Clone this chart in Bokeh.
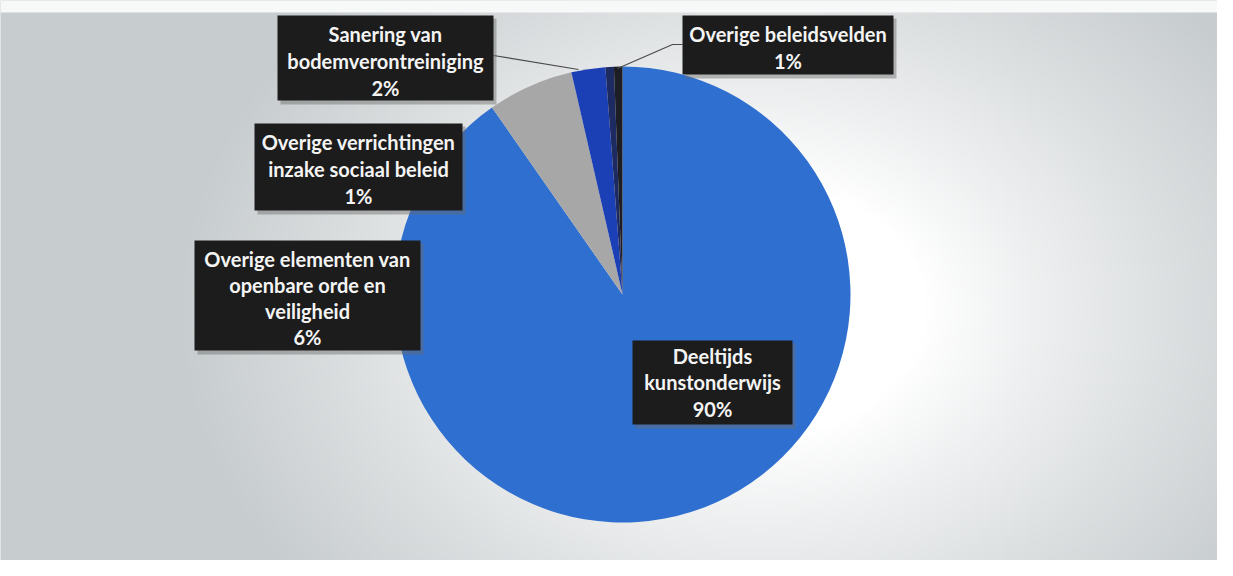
import numpy as np
from bokeh.plotting import figure
from bokeh.models import Range1d, ColumnDataSource
from bokeh.core.properties import value
from bokeh.embed import file_html
from bokeh.resources import INLINE

# ---- data ----
categories = ["Deeltijds kunstonderwijs",
              "Overige elementen van openbare orde en veiligheid",
              "Sanering van bodemverontreiniging",
              "Overige verrichtingen inzake sociaal beleid",
              "Overige beleidsvelden"]
shares = [90.3, 6.1, 2.4, 0.6, 0.6]
pct_labels = ["90%", "6%", "2%", "1%", "1%"]
label_lines = [["Deeltijds", "kunstonderwijs"],
               ["Overige elementen van", "openbare orde en", "veiligheid"],
               ["Sanering van", "bodemverontreiniging"],
               ["Overige verrichtingen", "inzake sociaal beleid"],
               ["Overige beleidsvelden"]]
colors = ["#2f6fcf", "#a7a7a7", "#1b3fb4", "#1e2b62", "#1d1d24"]

# ---- layout (screen-pixel style coordinates; y measured from top) ----
W, H = 1217, 560
def sy(y):
    return H - y

CX, CY, R = 622, 294, 228
# label boxes: (left, top, right, bottom, first-line centre y, line step)
boxes = [(632, 340, 792, 424, 355, 26.5),
         (194, 240, 420, 350, 258, 26.3),
         (277, 15, 493, 100, 33, 27),
         (254, 123, 462, 210, 141, 27),
         (682, 15, 893, 74, 33, 27)]

p = figure(width=W, height=H, output_backend="svg", toolbar_location=None,
           x_range=Range1d(0, W), y_range=Range1d(0, H),
           min_border=0)
p.axis.visible = False
p.grid.visible = False
p.outline_line_color = None
p.background_fill_color = "#d6d9da"
p.border_fill_color = "#ffffff"

# background: soft radial light spot (scanned page look)
gx = np.linspace(0, W, 300)
gy = np.linspace(0, H, 140)
X, Y = np.meshgrid(gx, gy)
t = np.sqrt(((X - 760) / 560.0) ** 2 + ((Y - 310) / 430.0) ** 2)
s = np.clip((t - 0.30) / 0.75, 0, 1) ** 0.9
light = np.array([255, 255, 255])
dark = np.array([199, 204, 206])
img = np.zeros((len(gy), len(gx)), dtype=np.uint32)
view = img.view(dtype=np.uint8).reshape((len(gy), len(gx), 4))
for c in range(3):
    view[:, :, c] = (light[c] * (1 - s) + dark[c] * s).astype(np.uint8)
view[:, :, 3] = 255
view[:] = view[::-1]  # image rows go bottom-up in data space
p.image_rgba(image=[img], x=0, y=0, dw=W, dh=H)
# light page edge at the top
p.quad(left=0, right=W, top=H, bottom=sy(12), fill_color="#f7f8f8", line_color=None)

# ---- pie ----
frac = np.array(shares) / np.sum(shares)
cum_end = np.cumsum(frac)
cum_start = cum_end - frac
src = ColumnDataSource(dict(
    start=np.pi / 2 - 2 * np.pi * cum_start,
    end=np.pi / 2 - 2 * np.pi * cum_end,
    color=colors, cat=categories))
p.wedge(x=CX, y=sy(CY), radius=R, start_angle="start", end_angle="end",
        direction="clock", fill_color="color", line_color=None, source=src)

# ---- leader lines ----
p.line(x=[493, 578], y=[sy(55), sy(69)], line_color="#4a4a4a", line_width=1.2)
p.line(x=[682, 672, 617], y=[sy(44), sy(44), sy(68)], line_color="#4a4a4a", line_width=1.2)

# ---- data labels ----
for i, (l, t_, r, b, y0, step) in enumerate(boxes):
    p.quad(left=l + 3, right=r + 3, top=sy(t_ + 3), bottom=sy(b + 4),
           fill_color="#6b6b6b", fill_alpha=0.45, line_color=None)
    p.quad(left=l, right=r, top=sy(t_), bottom=sy(b),
           fill_color="#1c1c1c", line_color=None)
    lines = label_lines[i] + [pct_labels[i]]
    xs = [(l + r) / 2] * len(lines)
    ys = [sy(y0 + k * step) for k in range(len(lines))]
    p.text(x=xs, y=ys, text=lines, text_color="#f4f4f4",
           text_font=value("Lato"), text_font_style="bold",
           text_font_size="20px", text_align="center", text_baseline="middle")

open("out.html", "w").write(file_html(p, INLINE))
